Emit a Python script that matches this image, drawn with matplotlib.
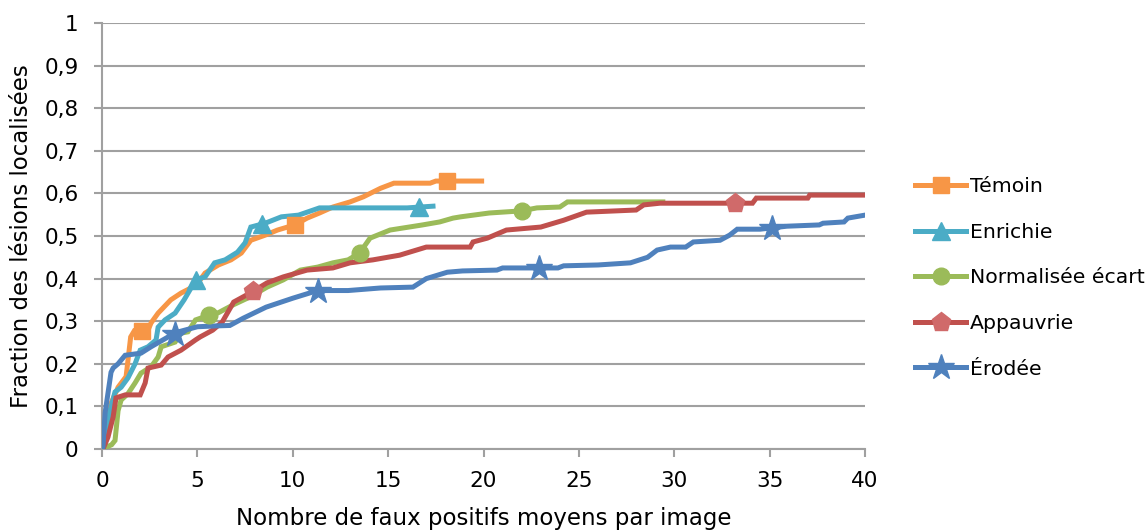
import numpy as np
import matplotlib.pyplot as plt
from matplotlib.lines import Line2D

# Courbes FROC : fraction des lésions localisées vs faux positifs moyens par image
temoin_x = [0, 0.2, 0.47, 0.84, 1.26, 1.5, 1.7, 2.4, 2.57, 2.94, 3.6, 4.14, 4.66, 5.03, 5.4,
            6.1, 6.76, 7.3, 7.8, 8.55, 9.2, 10.1, 10.75, 11.4, 12.1, 13.0, 13.7, 14.6, 15.3,
            17.2, 17.5, 19.9]
temoin_y = [0, 0.05, 0.107, 0.145, 0.17, 0.263, 0.278, 0.278, 0.296, 0.319, 0.35, 0.366, 0.378,
            0.39, 0.413, 0.432, 0.444, 0.46, 0.49, 0.502, 0.514, 0.526, 0.542, 0.554, 0.568,
            0.58, 0.592, 0.612, 0.624, 0.624, 0.629, 0.629]

enrichie_x = [0, 0.16, 0.42, 0.68, 1.0, 1.36, 1.73, 2.0, 2.41, 2.83, 2.94, 3.3, 3.83, 4.3,
              4.6, 4.9, 5.4, 5.9, 6.45, 7.1, 7.5, 7.8, 8.55, 9.4, 10.3, 11.4, 16.0, 17.35]
enrichie_y = [0, 0.038, 0.09, 0.134, 0.145, 0.167, 0.2, 0.232, 0.24, 0.256, 0.286, 0.303,
              0.319, 0.35, 0.373, 0.397, 0.404, 0.437, 0.444, 0.462, 0.484, 0.521, 0.53,
              0.545, 0.549, 0.566, 0.566, 0.57]

normalisee_x = [0, 0.5, 0.68, 0.84, 1.0, 1.36, 1.73, 2.04, 2.57, 2.94, 3.1, 3.83, 4.14, 4.5,
                4.9, 5.6, 6.1, 6.86, 7.76, 8.65, 9.5, 10.4, 11.3, 12.1, 12.9, 13.5, 14.05,
                15.1, 16.8, 17.7, 18.4, 18.8, 20.3, 22.0, 22.8, 24.0, 24.4, 29.4]
normalisee_y = [0, 0.01, 0.02, 0.09, 0.115, 0.13, 0.155, 0.178, 0.193, 0.216, 0.24, 0.251,
                0.272, 0.275, 0.303, 0.314, 0.32, 0.338, 0.357, 0.38, 0.397, 0.42, 0.427,
                0.437, 0.444, 0.46, 0.495, 0.514, 0.526, 0.533, 0.542, 0.545, 0.554, 0.559,
                0.566, 0.568, 0.58, 0.58]

appauvrie_x = [0, 0.05, 0.31, 0.58, 0.73, 1.21, 2.0, 2.26, 2.41, 3.1, 3.46, 4.14, 4.9, 5.14,
               5.8, 6.3, 6.9, 7.76, 8.65, 9.5, 10.75, 12.1, 13.0, 14.2, 15.6, 17.0, 19.3,
               19.45, 20.2, 21.2, 23.0, 24.2, 25.4, 28.0, 28.4, 29.25, 34.1, 34.3, 37.0,
               37.1, 40]
appauvrie_y = [0, 0, 0.028, 0.075, 0.12, 0.127, 0.127, 0.155, 0.19, 0.197, 0.216, 0.232,
               0.256, 0.263, 0.279, 0.298, 0.345, 0.366, 0.39, 0.404, 0.42, 0.425, 0.437,
               0.444, 0.455, 0.474, 0.474, 0.486, 0.495, 0.514, 0.521, 0.537, 0.556, 0.561,
               0.573, 0.577, 0.577, 0.589, 0.589, 0.596, 0.596]

erodee_x = [0, 0.05, 0.16, 0.47, 0.58, 0.84, 1.21, 2.04, 2.57, 3.46, 4.0, 5.0, 6.0, 6.7, 7.4,
            8.6, 10.0, 11.3, 12.9, 14.6, 16.3, 17.0, 18.1, 18.9, 20.7, 21.0, 23.9, 24.2,
            26.0, 27.7, 28.6, 29.1, 29.8, 30.6, 31.0, 32.4, 32.9, 33.3, 34.5, 35.9, 37.6,
            37.8, 38.9, 39.1, 40]
erodee_y = [0, 0.005, 0.085, 0.18, 0.19, 0.2, 0.22, 0.225, 0.24, 0.263, 0.275, 0.287, 0.289,
            0.29, 0.307, 0.333, 0.354, 0.372, 0.372, 0.378, 0.38, 0.40, 0.415, 0.418, 0.42,
            0.425, 0.425, 0.43, 0.432, 0.437, 0.45, 0.467, 0.474, 0.474, 0.486, 0.49, 0.502,
            0.516, 0.516, 0.523, 0.526, 0.53, 0.533, 0.542, 0.549]

# abscisses des marqueurs sur chaque courbe
temoin_mx = [2.1, 10.1, 18.1]
enrichie_mx = [4.9, 8.4, 16.6]
normalisee_mx = [5.6, 13.5, 22.0]
appauvrie_mx = [7.9, 33.2]
erodee_mx = [3.8, 11.3, 22.9, 35.1]

series = [
    ("Témoin", temoin_x, temoin_y, temoin_mx, "#F79646", "#F79646", "s", 11),
    ("Enrichie", enrichie_x, enrichie_y, enrichie_mx, "#4BACC6", "#4BACC6", "^", 13),
    ("Normalisée écart", normalisee_x, normalisee_y, normalisee_mx, "#9BBB59", "#9BBB59", "o", 12),
    ("Appauvrie", appauvrie_x, appauvrie_y, appauvrie_mx, "#C0504D", "#D06A6A", "p", 14),
    ("Érodée", erodee_x, erodee_y, erodee_mx, "#4F81BD", "#4F81BD", "*", 19),
]

plt.rcParams['font.family'] = ['DejaVu Sans']
fig = plt.figure(figsize=(11.48, 5.31), dpi=100)
ax = fig.add_axes([0.0889, 0.1544, 0.6646, 0.8023])

handles = []
for nom, xs, ys, mx, couleur, mcouleur, marqueur, taille in series:
    ax.plot(xs, ys, color=couleur, lw=3.6, solid_joinstyle="miter", zorder=3)
    my = np.interp(mx, xs, ys)
    ax.plot(mx, my, ls="none", marker=marqueur, ms=taille, color=mcouleur, mec=mcouleur, zorder=4)
    handles.append(Line2D([], [], color=couleur, lw=3.6, marker=marqueur, ms=taille,
                          mfc=mcouleur, mec=mcouleur, label=nom))

ax.set_xlim(0, 40)
ax.set_ylim(0, 1)
ax.set_xticks(np.arange(0, 41, 5))
ax.set_yticks(np.arange(0, 1.01, 0.1))
ax.set_yticklabels(["0" if v == 0 else "1" if v == 1 else f"{v:.1f}".replace(".", ",")
                    for v in np.arange(0, 1.01, 0.1)])
ax.yaxis.grid(True, color="#A0A0A0", lw=1.5)
ax.set_axisbelow(True)
for s in ["top", "right"]:
    ax.spines[s].set_visible(False)
for s in ["left", "bottom"]:
    ax.spines[s].set_color("#A0A0A0")
    ax.spines[s].set_linewidth(1.5)
ax.tick_params(axis="both", colors="#A0A0A0", labelcolor="black", labelsize=15.5,
               length=6, width=1.5)
ax.tick_params(axis="x", pad=10)
ax.tick_params(axis="y", pad=11)

ax.set_xlabel("Nombre de faux positifs moyens par image", fontsize=16.5, labelpad=11)
ax.set_ylabel("Fraction des lésions localisées", fontsize=16.5, labelpad=8)

fig.legend(handles=handles, loc="center left", bbox_to_anchor=(0.79, 0.4765), frameon=False,
           fontsize=14.7, handlelength=2.5, handletextpad=0.2, labelspacing=1.3,
           borderaxespad=0)

fig.savefig("out.png", dpi=100)
